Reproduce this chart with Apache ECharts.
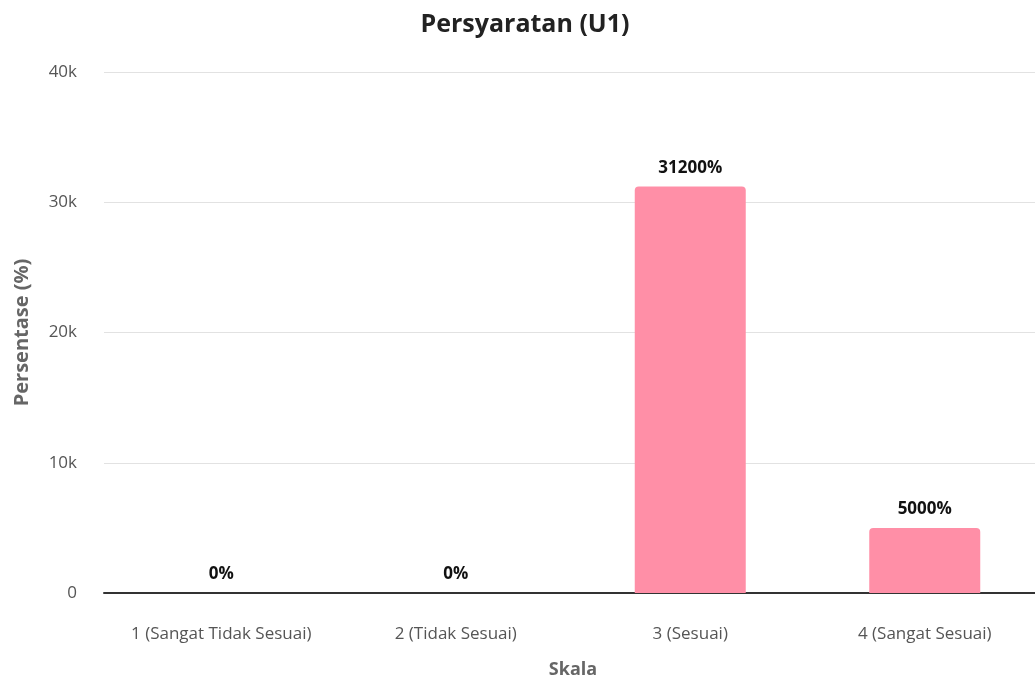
<!DOCTYPE html>
<html>
<head>
<meta charset="utf-8">
<script src="https://cdn.jsdelivr.net/npm/echarts@6/dist/echarts.min.js"></script>
<style>
    html, body { margin:0; padding:0; background:#fff; overflow:hidden; }
    #chart { width:1042px; height:680px; }
</style>
</head>
<body>
<div id="chart"></div>
<script>
var categories = ['1 (Sangat Tidak Sesuai)', '2 (Tidak Sesuai)', '3 (Sesuai)', '4 (Sangat Sesuai)'];
var values = [0, 0, 31200, 5000];
var yTicks = [0, 10000, 20000, 30000, 40000];

var chart = echarts.init(document.getElementById('chart'));
var font = 'Open Sans';

var option = {
    animation: false,
    title: {
        text: 'Persyaratan (U1)',
        left: 520,
        textAlign: 'center',
        top: 7,
        textStyle: { fontFamily: font, fontSize: 25, fontWeight: 'bold', color: '#222' }
    },
    grid: { left: 104, right: 0, top: 72, bottom: 87, containLabel: false, outerBoundsMode: 'none' },
    xAxis: {
        type: 'category',
        data: categories,
        name: 'Skala',
        nameLocation: 'middle',
        nameGap: 68,
        nameTextStyle: { fontFamily: font, fontSize: 18, fontWeight: 'bold', color: '#666' },
        axisLine: { lineStyle: { color: '#333', width: 2 } },
        axisTick: { show: false },
        axisLabel: { interval: 0, fontFamily: font, fontSize: 17, color: '#555', margin: 33 }
    },
    yAxis: {
        type: 'value',
        min: yTicks[0],
        max: yTicks[yTicks.length - 1],
        interval: 10000,
        name: 'Persentase (%)',
        nameLocation: 'middle',
        nameGap: 72,
        nameTextStyle: { fontFamily: font, fontSize: 20, fontWeight: 'bold', color: '#666' },
        axisLine: { show: false },
        axisTick: { show: false },
        splitLine: { lineStyle: { color: '#e2e2e2' } },
        axisLabel: {
            fontFamily: font, fontSize: 17, color: '#555', margin: 27,
            formatter: function (v) { return v === 0 ? '0' : (v / 1000) + 'k'; }
        }
    },
    series: [{
        type: 'bar',
        data: values,
        barWidth: 111,
        itemStyle: { color: '#ff8fa7', borderRadius: [4, 4, 0, 0] },
        label: {
            show: true,
            position: 'top',
            distance: 10,
            fontFamily: font, fontSize: 17, fontWeight: 'bold', color: '#111',
            formatter: function (p) { return p.value + '%'; }
        }
    }]
};
chart.setOption(option);
</script>
</body>
</html>
